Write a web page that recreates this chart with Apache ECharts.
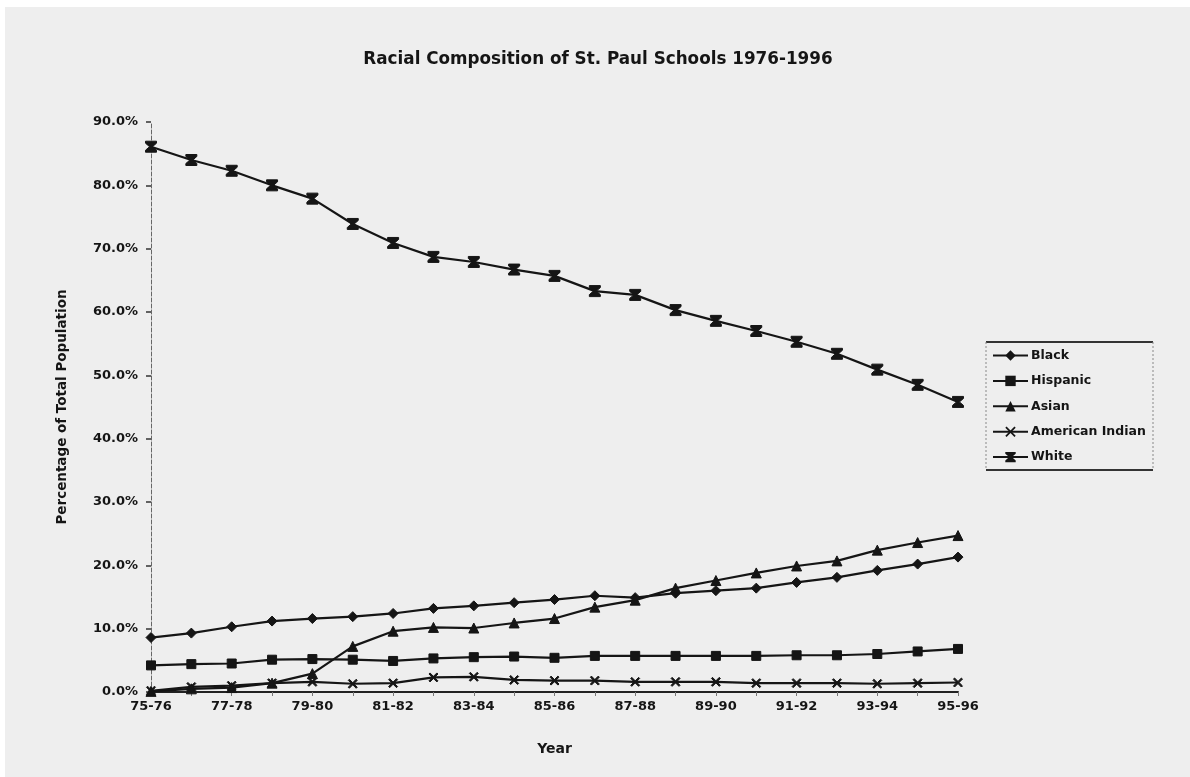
<!DOCTYPE html>
<html>
<head>
<meta charset="utf-8">
<title>Racial Composition of St. Paul Schools 1976-1996</title>
<script src="https://cdn.jsdelivr.net/npm/echarts@6/dist/echarts.min.js"></script>
<style>
  html, body { margin: 0; padding: 0; background: #ffffff; }
  #chart { width: 1190px; height: 777px; }
</style>
</head>
<body>
<div id="chart"></div>
<script>
// School years, one category per year
const years = ['75-76', '76-77', '77-78', '78-79', '79-80', '80-81', '81-82', '82-83', '83-84', '84-85',
               '85-86', '86-87', '87-88', '88-89', '89-90', '90-91', '91-92', '92-93', '93-94', '94-95', '95-96'];

// Share of total enrollment, percent
const black    = [8.6, 9.3, 10.3, 11.2, 11.6, 11.9, 12.4, 13.2, 13.6, 14.1, 14.6, 15.2, 14.9, 15.6, 16.0, 16.4, 17.3, 18.1, 19.2, 20.2, 21.3];
const hispanic = [4.2, 4.4, 4.5, 5.1, 5.2, 5.1, 4.9, 5.3, 5.5, 5.6, 5.4, 5.7, 5.7, 5.7, 5.7, 5.7, 5.8, 5.8, 6.0, 6.4, 6.8];
const asian    = [0.1, 0.5, 0.7, 1.4, 2.9, 7.2, 9.6, 10.2, 10.1, 10.9, 11.6, 13.4, 14.5, 16.4, 17.6, 18.8, 19.9, 20.7, 22.4, 23.6, 24.7];
const amIndian = [0.2, 0.8, 1.0, 1.4, 1.6, 1.3, 1.4, 2.3, 2.4, 1.9, 1.8, 1.8, 1.6, 1.6, 1.6, 1.4, 1.4, 1.4, 1.3, 1.4, 1.5];
const white    = [86.1, 84.0, 82.3, 80.0, 77.9, 73.9, 70.9, 68.7, 67.9, 66.7, 65.7, 63.3, 62.7, 60.3, 58.6, 57.0, 55.3, 53.4, 50.9, 48.5, 45.8];

const seriesNames = ['Black', 'Hispanic', 'Asian', 'American Indian', 'White'];
const yTicks = { min: 0, max: 90, step: 10 };

const INK = '#151515';
const FONT = '"DejaVu Sans", Verdana, sans-serif';

// Marker shapes in the old spreadsheet style
const SYM_X = 'path://M0,1.2L1.2,0L5,3.8L8.8,0L10,1.2L6.2,5L10,8.8L8.8,10L5,6.2L1.2,10L0,8.8L3.8,5Z';
const SYM_HOURGLASS = 'path://M0,0L10,0L10,1.8L6.3,5L10,8.2L10,10L0,10L0,8.2L3.7,5L0,1.8Z';

function line(name, data, symbol, size) {
  return {
    name: name,
    type: 'line',
    data: data,
    symbol: symbol,
    symbolSize: size,
    showSymbol: true,
    lineStyle: { color: INK, width: 2.2 },
    itemStyle: { color: INK, borderColor: INK },
    emphasis: { disabled: true },
    z: 3
  };
}

// Legend frame: heavy rules top and bottom, light dotted sides
const LEG = { x0: 986, x1: 1153, y0: 342, y1: 470 };
const frame = [
  { type: 'line', shape: { x1: LEG.x0, y1: LEG.y0, x2: LEG.x1, y2: LEG.y0 }, style: { stroke: '#333', lineWidth: 2 } },
  { type: 'line', shape: { x1: LEG.x0, y1: LEG.y1, x2: LEG.x1, y2: LEG.y1 }, style: { stroke: '#333', lineWidth: 2 } },
  { type: 'line', shape: { x1: LEG.x0, y1: LEG.y0, x2: LEG.x0, y2: LEG.y1 }, style: { stroke: '#888', lineWidth: 1, lineDash: [2, 2] } },
  { type: 'line', shape: { x1: LEG.x1, y1: LEG.y0, x2: LEG.x1, y2: LEG.y1 }, style: { stroke: '#888', lineWidth: 1, lineDash: [2, 2] } }
];

const chart = echarts.init(document.getElementById('chart'), null, { renderer: 'canvas' });

chart.setOption({
  animation: false,
  backgroundColor: '#ffffff',
  graphic: [{
    type: 'rect',
    shape: { x: 5, y: 7, width: 1185, height: 770 },
    style: { fill: '#eeeeee' },
    z: -10, silent: true
  }].concat(frame.map(f => Object.assign({ silent: true, z: 5 }, f))),
  title: {
    text: 'Racial Composition of St. Paul Schools 1976-1996',
    left: 593, top: 46, textAlign: 'center',
    textStyle: { fontFamily: FONT, fontSize: 16.8, fontWeight: 'bold', color: INK }
  },
  legend: {
    orient: 'vertical',
    left: LEG.x0, top: LEG.y0,
    padding: [7, 6, 6, 6],
    itemWidth: 35, itemHeight: 13, itemGap: 12.4,
    borderWidth: 0,
    backgroundColor: 'transparent',
    textStyle: { fontFamily: FONT, fontSize: 12.5, fontWeight: 'bold', color: INK, padding: [0, 0, 0, -2] },
    data: seriesNames
  },
  grid: { left: 151, right: 232, top: 122, bottom: 85, containLabel: false },
  xAxis: {
    type: 'category',
    data: years,
    boundaryGap: false,
    name: 'Year',
    nameLocation: 'middle',
    nameGap: 50,
    nameTextStyle: { fontFamily: FONT, fontSize: 14, fontWeight: 'bold', color: INK },
    axisLine: { lineStyle: { color: '#222', width: 2 } },
    axisTick: { show: true, length: 4, interval: 0, lineStyle: { color: '#777' } },
    axisLabel: { interval: 1, margin: 8, fontFamily: FONT, fontSize: 13, fontWeight: 'bold', color: INK },
    splitLine: { show: false }
  },
  yAxis: {
    type: 'value',
    min: yTicks.min, max: yTicks.max, interval: yTicks.step,
    name: 'Percentage of Total Population',
    nameLocation: 'middle',
    nameGap: 82,
    nameRotate: 90,
    nameTextStyle: { fontFamily: FONT, fontSize: 13.5, fontWeight: 'bold', color: INK },
    axisLine: { show: true, lineStyle: { color: '#666', width: 1, type: 'dashed' } },
    axisTick: { show: true, length: 5, lineStyle: { color: '#333', width: 1.5 } },
    axisLabel: {
      margin: 13, fontFamily: FONT, fontSize: 13, fontWeight: 'bold', color: INK,
      formatter: v => v.toFixed(1) + '%'
    },
    splitLine: { show: false }
  },
  series: [
    line('Black', black, 'diamond', 10),
    line('Hispanic', hispanic, 'rect', 9),
    line('Asian', asian, 'triangle', 10),
    line('American Indian', amIndian, SYM_X, 9),
    line('White', white, SYM_HOURGLASS, 11)
  ]
});
</script>
</body>
</html>
